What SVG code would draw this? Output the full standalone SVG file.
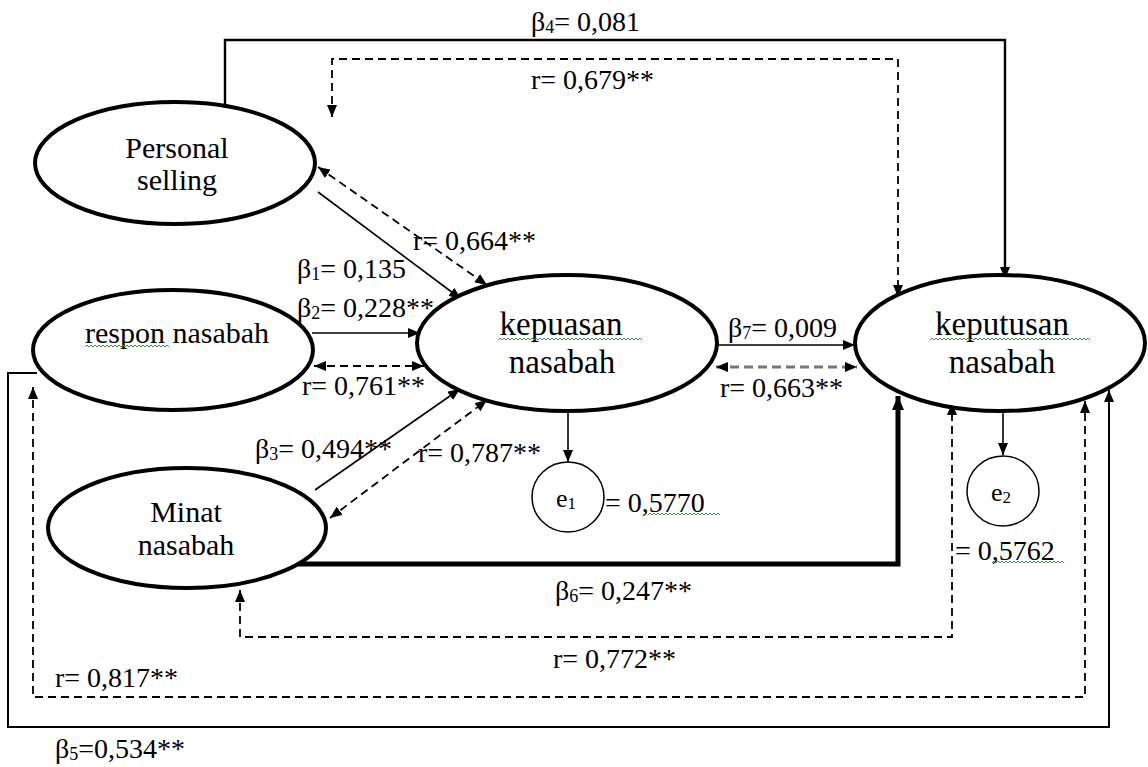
<svg xmlns="http://www.w3.org/2000/svg" width="1148" height="767" viewBox="0 0 1148 767" font-family="Liberation Serif">
<style>
.node{fill:#fff;stroke:#000;stroke-width:4}
.err{fill:#fff;stroke:#000;stroke-width:1.5}
.nt{font-size:30px;fill:#000;text-anchor:middle}
.big{font-size:33px}
.lb{font-size:28px;fill:#000}
.sub{font-size:18px}
.s{fill:none;stroke:#000;stroke-width:1.6}
.d{fill:none;stroke:#000;stroke-width:1.8;stroke-dasharray:8 5}
.sq{fill:none;stroke:#3a9a3a;stroke-width:1}
</style>
<defs>
<marker id="ah" viewBox="0 0 12 10" refX="12" refY="5" markerWidth="12" markerHeight="10" markerUnits="userSpaceOnUse" orient="auto-start-reverse"><path d="M0,0 L12,5 L0,10 z" fill="#000"/></marker>
<marker id="ahb" viewBox="0 0 14 12" refX="14" refY="6" markerWidth="14" markerHeight="12" markerUnits="userSpaceOnUse" orient="auto-start-reverse"><path d="M0,0 L14,6 L0,12 z" fill="#000"/></marker>
</defs>
<rect width="1148" height="767" fill="#fff"/>

<g id="connectors">
<polyline class="s" style="stroke-width:2.4" points="225,104 225,40 1005,40 1005,279" marker-end="url(#ah)"/>
<polyline class="d" points="332,117 332,59 898,59 898,297" marker-start="url(#ah)" marker-end="url(#ah)"/>
<line class="s" x1="318" y1="192" x2="461" y2="299" marker-end="url(#ah)"/>
<line class="d" x1="318" y1="167" x2="487" y2="285" marker-start="url(#ah)" marker-end="url(#ah)"/>
<line class="s" x1="312" y1="333" x2="420" y2="333" marker-end="url(#ah)"/>
<line class="d" x1="314" y1="366" x2="424" y2="366" marker-start="url(#ah)" marker-end="url(#ah)"/>
<line class="s" x1="315" y1="490" x2="460" y2="389" marker-end="url(#ah)"/>
<line class="d" x1="330" y1="518" x2="487" y2="400" marker-start="url(#ah)" marker-end="url(#ah)"/>
<line class="s" x1="568" y1="410" x2="568" y2="462" marker-end="url(#ah)"/>
<line class="s" x1="717" y1="345" x2="855" y2="345" marker-end="url(#ah)"/>
<line class="d" style="stroke:#777;stroke-width:3;stroke-dasharray:9 5" x1="716" y1="367" x2="857" y2="367" marker-start="url(#ah)" marker-end="url(#ah)"/>
<polyline class="s" style="stroke-width:5" points="298,564 898,564 898,396" marker-end="url(#ahb)"/>
<polyline class="d" points="240,590 240,637 952,637 952,403" marker-start="url(#ah)" marker-end="url(#ah)"/>
<polyline class="d" points="33,387 33,697 1085,697 1085,401" marker-start="url(#ah)" marker-end="url(#ah)"/>
<polyline class="s" style="stroke-width:2" points="37,373 8,373 8,727 1109,727 1109,390" marker-end="url(#ah)"/>
<line class="s" x1="1003" y1="405" x2="1003" y2="455" marker-end="url(#ah)"/>
</g>

<g id="personal-selling">
<ellipse class="node" cx="175" cy="163" rx="140" ry="61"/>
<text class="nt" x="177" y="158">Personal</text>
<text class="nt" x="177" y="190">selling</text>
</g>
<g id="respon-nasabah">
<ellipse class="node" cx="173" cy="350" rx="140" ry="60"/>
<text class="nt" x="177" y="343">respon nasabah</text>
<path class="sq" d="M85,347 l2,-2 2,2 2,-2 2,2 2,-2 2,2 2,-2 2,2 2,-2 2,2 2,-2 2,2 2,-2 2,2 2,-2 2,2 2,-2 2,2 2,-2 2,2 2,-2 2,2 2,-2 2,2 2,-2 2,2 2,-2 2,2 2,-2 2,2 2,-2 2,2 2,-2 2,2 2,-2 2,2 2,-2 2,2 2,-2 2,2 2,-2 2,2"/>
</g>
<g id="minat-nasabah">
<ellipse class="node" cx="187" cy="528" rx="139" ry="60"/>
<text class="nt" x="186" y="522">Minat</text>
<text class="nt" x="186" y="555">nasabah</text>
</g>
<g id="kepuasan-nasabah">
<ellipse class="node" cx="567" cy="343" rx="150" ry="68"/>
<text class="nt big" x="561" y="335">kepuasan</text>
<path class="sq" d="M498,340 l2,-2 2,2 2,-2 2,2 2,-2 2,2 2,-2 2,2 2,-2 2,2 2,-2 2,2 2,-2 2,2 2,-2 2,2 2,-2 2,2 2,-2 2,2 2,-2 2,2 2,-2 2,2 2,-2 2,2 2,-2 2,2 2,-2 2,2 2,-2 2,2 2,-2 2,2 2,-2 2,2 2,-2 2,2 2,-2 2,2 2,-2 2,2 2,-2 2,2 2,-2 2,2 2,-2 2,2 2,-2 2,2 2,-2 2,2 2,-2 2,2 2,-2 2,2 2,-2 2,2 2,-2 2,2 2,-2 2,2 2,-2 2,2 2,-2 2,2 2,-2 2,2 2,-2 2,2 2,-2 2,2"/>
<text class="nt big" x="562" y="373">nasabah</text>
</g>
<g id="keputusan-nasabah">
<ellipse class="node" cx="1000" cy="343" rx="145" ry="68"/>
<text class="nt big" x="1002" y="335">keputusan</text>
<path class="sq" d="M930,340 l2,-2 2,2 2,-2 2,2 2,-2 2,2 2,-2 2,2 2,-2 2,2 2,-2 2,2 2,-2 2,2 2,-2 2,2 2,-2 2,2 2,-2 2,2 2,-2 2,2 2,-2 2,2 2,-2 2,2 2,-2 2,2 2,-2 2,2 2,-2 2,2 2,-2 2,2 2,-2 2,2 2,-2 2,2 2,-2 2,2 2,-2 2,2 2,-2 2,2 2,-2 2,2 2,-2 2,2 2,-2 2,2 2,-2 2,2 2,-2 2,2 2,-2 2,2 2,-2 2,2 2,-2 2,2 2,-2 2,2 2,-2 2,2 2,-2 2,2 2,-2 2,2 2,-2 2,2 2,-2 2,2 2,-2 2,2 2,-2 2,2 2,-2 2,2 2,-2 2,2"/>
<text class="nt big" x="1002" y="373">nasabah</text>
</g>
<g id="e1">
<ellipse class="err" cx="568" cy="497" rx="36" ry="35"/>
<text class="lb" x="556" y="507" style="font-size:26px">e<tspan class="sub" dy="2" style="font-size:17px">1</tspan></text>
</g>
<g id="e2">
<ellipse class="err" cx="1003" cy="491" rx="36" ry="35"/>
<text class="lb" x="991" y="501" style="font-size:26px">e<tspan class="sub" dy="2" style="font-size:17px">2</tspan></text>
</g>

<g id="labels">
<text class="lb" x="531" y="31">β<tspan class="sub" dy="2">4</tspan><tspan dy="-2">= 0,081</tspan></text>
<text class="lb" x="531" y="89">r= 0,679**</text>
<text class="lb" x="413" y="250">r= 0,664**</text>
<text class="lb" x="297" y="278">β<tspan class="sub" dy="2">1</tspan><tspan dy="-2">= 0,135</tspan></text>
<text class="lb" x="297" y="317">β<tspan class="sub" dy="2">2</tspan><tspan dy="-2">= 0,228**</tspan></text>
<text class="lb" x="302" y="395">r= 0,761**</text>
<text class="lb" x="255" y="458">β<tspan class="sub" dy="2">3</tspan><tspan dy="-2">= 0,494**</tspan></text>
<text class="lb" x="418" y="462">r= 0,787**</text>
<text class="lb" x="605" y="512">= 0,5770</text>
<path class="sq" d="M648,515 l2,-2 2,2 2,-2 2,2 2,-2 2,2 2,-2 2,2 2,-2 2,2 2,-2 2,2 2,-2 2,2 2,-2 2,2 2,-2 2,2 2,-2 2,2 2,-2 2,2 2,-2 2,2 2,-2 2,2 2,-2 2,2 2,-2 2,2 2,-2 2,2 2,-2 2,2 2,-2 2,2"/>
<text class="lb" x="728" y="337">β<tspan class="sub" dy="2">7</tspan><tspan dy="-2">= 0,009</tspan></text>
<text class="lb" x="720" y="397">r= 0,663**</text>
<text class="lb" x="955" y="560">= 0,5762</text>
<path class="sq" d="M992,563 l2,-2 2,2 2,-2 2,2 2,-2 2,2 2,-2 2,2 2,-2 2,2 2,-2 2,2 2,-2 2,2 2,-2 2,2 2,-2 2,2 2,-2 2,2 2,-2 2,2 2,-2 2,2 2,-2 2,2 2,-2 2,2 2,-2 2,2 2,-2 2,2 2,-2 2,2 2,-2 2,2"/>
<text class="lb" x="555" y="600">β<tspan class="sub" dy="2">6</tspan><tspan dy="-2">= 0,247**</tspan></text>
<text class="lb" x="553" y="668">r= 0,772**</text>
<text class="lb" x="55" y="687">r= 0,817**</text>
<text class="lb" x="55" y="758">β<tspan class="sub" dy="2">5</tspan><tspan dy="-2">=0,534**</tspan></text>
</g>
</svg>
